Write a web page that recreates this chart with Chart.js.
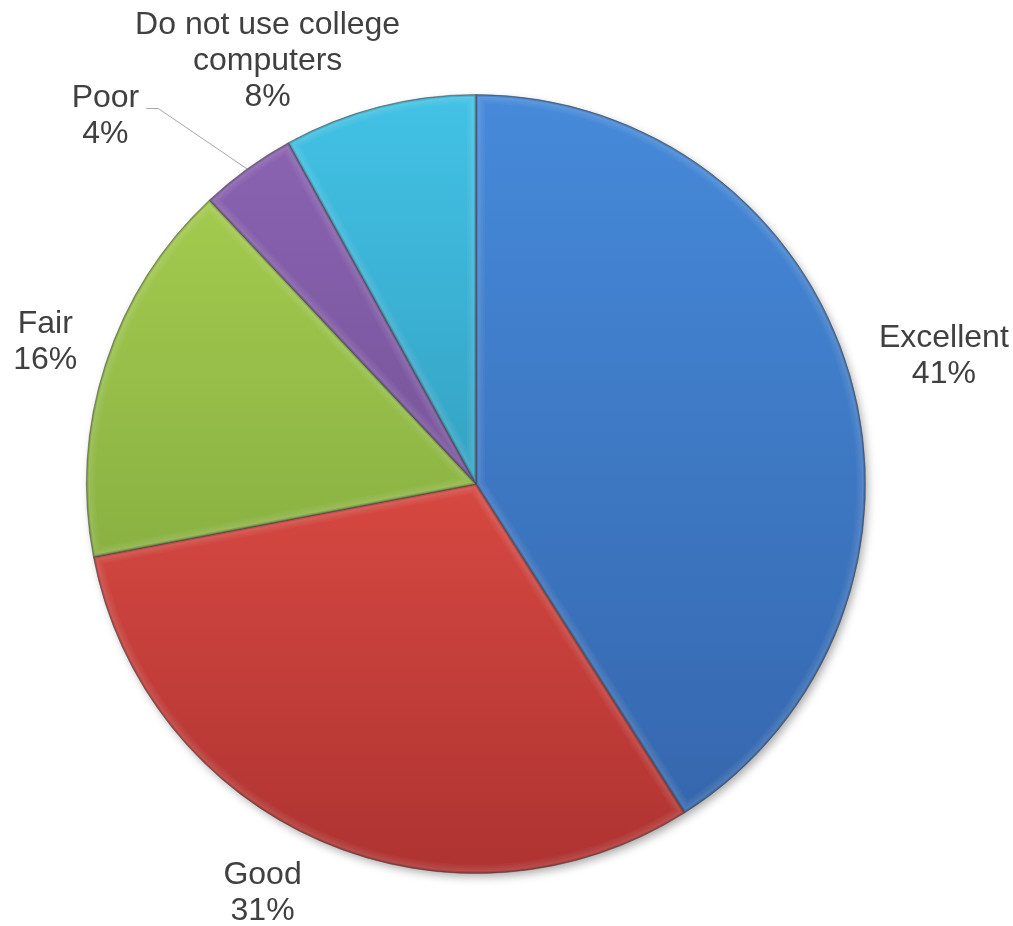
<!DOCTYPE html>
<html>
<head>
<meta charset="utf-8">
<script src="https://cdn.jsdelivr.net/npm/chart.js@4.4.1/dist/chart.umd.min.js"></script>
<style>
  html, body { margin: 0; padding: 0; background: #fff; }
  #wrap { width: 1013px; height: 926px; }
</style>
</head>
<body>
<div id="wrap"><canvas id="pie"></canvas></div>
<script>
const categories = ['Excellent', 'Good', 'Fair', 'Poor', 'Do not use college computers'];
const percents = [41, 31, 16, 4, 8];

// each slice fades from a light shade at the top of the pie to a dark one at the bottom
const topShades = ['#468ada', '#ff5d52', '#aad252', '#8c64b4', '#42c2e6'];
const bottomShades = ['#3464aa', '#ae3331', '#739b37', '#644682', '#2882a0'];

function sliceFill(context) {
  const chart = context.chart;
  const area = chart.chartArea;
  const i = context.dataIndex;
  if (!area) return topShades[i];
  const g = chart.ctx.createLinearGradient(0, area.top, 0, area.bottom);
  g.addColorStop(0, topShades[i]);
  g.addColorStop(1, bottomShades[i]);
  return g;
}

// soft drop shadow under the whole pie
const pieShadow = {
  id: 'pieShadow',
  beforeDatasetsDraw(chart) {
    const arc = chart.getDatasetMeta(0).data[0];
    if (!arc) return;
    const ctx = chart.ctx;
    ctx.save();
    ctx.shadowColor = 'rgba(0,0,0,0.35)';
    ctx.shadowBlur = 10;
    ctx.shadowOffsetX = 3;
    ctx.shadowOffsetY = 4;
    ctx.fillStyle = '#fff';
    ctx.beginPath();
    ctx.arc(arc.x, arc.y, arc.outerRadius - 1, 0, Math.PI * 2);
    ctx.fill();
    ctx.restore();
  }
};

// soft light band inside the edges of every slice, with a thin darker rim
const bevel = {
  id: 'bevel',
  afterDatasetsDraw(chart) {
    const ctx = chart.ctx;
    chart.getDatasetMeta(0).data.forEach((arc) => {
      const p = arc.getProps(['x', 'y', 'startAngle', 'endAngle', 'outerRadius']);
      ctx.save();
      ctx.beginPath();
      ctx.moveTo(p.x, p.y);
      ctx.arc(p.x, p.y, p.outerRadius, p.startAngle, p.endAngle);
      ctx.closePath();
      ctx.clip();
      ctx.lineJoin = 'round';
      [18, 14, 10, 7].forEach((w) => {
        ctx.strokeStyle = 'rgba(255,255,255,0.035)';
        ctx.lineWidth = w;
        ctx.stroke();
      });
      ctx.strokeStyle = 'rgba(0,0,0,0.12)';
      ctx.lineWidth = 4;
      ctx.stroke();
      ctx.strokeStyle = 'rgba(0,0,0,0.12)';
      ctx.lineWidth = 2;
      ctx.stroke();
      ctx.restore();
    });
  }
};

function wrapText(ctx, text, maxWidth) {
  const words = text.split(' ');
  const lines = [];
  let line = '';
  words.forEach((w) => {
    const test = line ? line + ' ' + w : w;
    if (line && ctx.measureText(test).width > maxWidth) {
      lines.push(line);
      line = w;
    } else {
      line = test;
    }
  });
  lines.push(line);
  return lines;
}

// category + percent written outside each slice
const outsideLabels = {
  id: 'outsideLabels',
  afterDraw(chart, args, opts) {
    const ctx = chart.ctx;
    const data = chart.data.datasets[0].data;
    ctx.save();
    ctx.font = opts.font;
    ctx.fillStyle = opts.color;
    ctx.textAlign = 'center';
    ctx.textBaseline = 'middle';
    chart.getDatasetMeta(0).data.forEach((arc, i) => {
      const p = arc.getProps(['x', 'y', 'startAngle', 'endAngle', 'outerRadius']);
      const mid = (p.startAngle + p.endAngle) / 2;
      const nudge = opts.nudge[i] || [0, 0];
      const cx = p.x + Math.cos(mid) * p.outerRadius * opts.radiusFactor + nudge[0];
      const cy = p.y + Math.sin(mid) * p.outerRadius * opts.radiusFactor + nudge[1];
      const lines = wrapText(ctx, chart.data.labels[i], opts.wrapWidth);
      lines.push(data[i] + '%');
      const top = cy - (lines.length - 1) * opts.lineHeight / 2;
      lines.forEach((t, k) => ctx.fillText(t, cx, top + k * opts.lineHeight));

      if (data[i] < 5) {
        // leader line from the first text line to the slice edge
        const w = ctx.measureText(lines[0]).width;
        const sx = cx + w / 2 + 7;
        const sy = top + 10;
        ctx.save();
        ctx.strokeStyle = '#a6a6a6';
        ctx.lineWidth = 1;
        ctx.beginPath();
        ctx.moveTo(sx, sy);
        ctx.lineTo(sx + 12, sy);
        ctx.lineTo(p.x + Math.cos(mid) * p.outerRadius, p.y + Math.sin(mid) * p.outerRadius);
        ctx.stroke();
        ctx.restore();
      }
    });
    ctx.restore();
  }
};

new Chart(document.getElementById('pie'), {
  type: 'pie',
  data: {
    labels: categories,
    datasets: [{
      data: percents,
      backgroundColor: sliceFill,
      borderColor: 'rgba(50,50,50,0.45)',
      borderWidth: 1,
      hoverOffset: 0
    }]
  },
  options: {
    responsive: true,
    maintainAspectRatio: false,
    animation: false,
    layout: {
      padding: { left: 86, right: 147, top: 94, bottom: 52 }
    },
    plugins: {
      legend: { display: false },
      tooltip: { enabled: false },
      outsideLabels: {
        font: '32px "Liberation Sans", Arial, sans-serif',
        color: '#404040',
        lineHeight: 36,
        wrapWidth: 300,
        radiusFactor: 1.16,
        nudge: [[34, -2], [-34, -5], [-1, -2], [-105, -2], [-96, 15]]
      }
    }
  },
  plugins: [pieShadow, bevel, outsideLabels]
});
</script>
</body>
</html>
